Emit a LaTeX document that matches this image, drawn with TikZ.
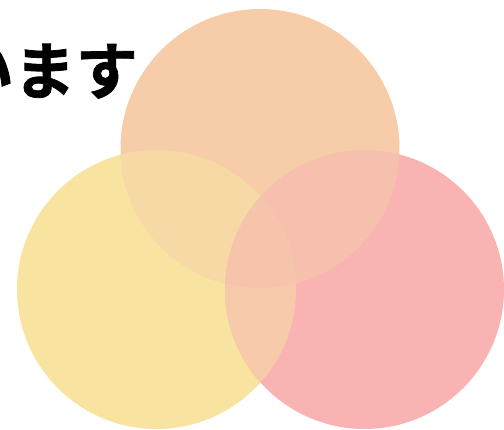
\documentclass[tikz,border=0pt]{standalone}
\usepackage{fontspec}
\newfontfamily\jpfont{Noto Sans CJK JP Bold}[FakeBold=1.2]
\definecolor{cO}{HTML}{F7CCA8}
\definecolor{cY}{HTML}{F8E4A0}
\definecolor{cP}{HTML}{F9B3B3}
\definecolor{cYO}{HTML}{F7D9A6}
\definecolor{cOP}{HTML}{F7C0AE}
\definecolor{cYP}{HTML}{F7CBA9}
\definecolor{cYOP}{HTML}{F6C4AA}
\begin{document}
\begin{tikzpicture}[x=1pt,y=-1pt]
\useasboundingbox (0,0) rectangle (504,430);
\def\R{139.5}
\coordinate (O) at (260,148.5);
\coordinate (Y) at (156.5,289.5);
\coordinate (P) at (364.5,289.5);
\fill[cY] (Y) circle (\R);
\fill[cP] (P) circle (\R);
\fill[cO] (O) circle (\R);
\begin{scope}
  \clip (P) circle (\R);
  \fill[cOP] (O) circle (\R);
\end{scope}
\begin{scope}
  \clip (Y) circle (\R);
  \fill[cYO] (O) circle (\R);
  \fill[cYP] (P) circle (\R);
  \clip (P) circle (\R);
  \fill[cYOP] (O) circle (\R);
\end{scope}
\node[anchor=base east,inner sep=0pt,font=\jpfont\fontsize{62}{62}\selectfont] (t) at (138,94) {います};
\end{tikzpicture}
\end{document}
